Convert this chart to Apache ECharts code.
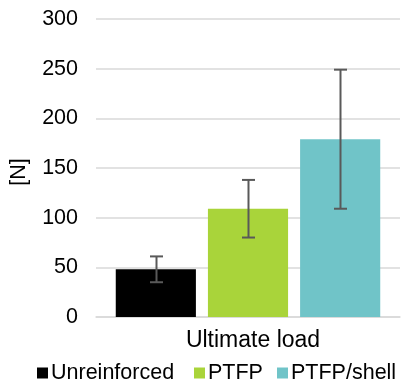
<!DOCTYPE html>
<html>
<head>
<meta charset="utf-8">
<script src="https://cdn.jsdelivr.net/npm/echarts@6/dist/echarts.min.js"></script>
<style>
  html, body { margin: 0; padding: 0; background: #ffffff; }
  #chart { width: 402px; height: 388px; }
</style>
</head>
<body>
<div id="chart"></div>
<script>
// Ultimate load per reinforcement type, mean with ± spread
const categories = ['Ultimate load'];
const seriesNames = ['Unreinforced', 'PTFP', 'PTFP/shell'];
const seriesColors = ['#000000', '#a9d43a', '#70c4c8'];
const unreinforcedMean = [48];
const ptfpMean = [109];
const ptfpShellMean = [179];
const unreinforcedErr = [13];
const ptfpErr = [29];
const ptfpShellErr = [70];
const yTicks = [0, 50, 100, 150, 200, 250, 300];

const means = [unreinforcedMean, ptfpMean, ptfpShellMean];
const errs = [unreinforcedErr, ptfpErr, ptfpShellErr];

const FONT = '"Liberation Sans", Arial, sans-serif';
const TICK_FS = 21.5;
const CAT_FS = 23;
const LEGEND_FS = 21.5;
const BAR_GAP = '15%';
const CAT_GAP = '13%';
// left edge of each legend entry
const legendLeft = [37, 194, 277];

const chart = echarts.init(document.getElementById('chart'), null, { renderer: 'canvas' });

const barSeries = seriesNames.map((name, i) => ({
  name: name,
  type: 'bar',
  data: means[i],
  barGap: BAR_GAP,
  barCategoryGap: CAT_GAP,
  itemStyle: { color: seriesColors[i] },
  silent: true
}));

// Error whiskers placed over each bar using the bar layout of the category axis
const errorSeries = seriesNames.map((name, i) => ({
  name: name + ' error',
  type: 'custom',
  silent: true,
  z: 5,
  data: means[i].map((m, k) => [k, m - errs[i][k], m + errs[i][k]]),
  renderItem: function (params, api) {
    const cat = api.value(0);
    const lowPt = api.coord([cat, api.value(1)]);
    const highPt = api.coord([cat, api.value(2)]);
    const bandW = api.size([1, 0])[0];
    const n = seriesNames.length;
    const gapRatio = parseFloat(BAR_GAP) / 100;
    const catGapRatio = parseFloat(CAT_GAP) / 100;
    const usable = bandW * (1 - catGapRatio);
    const barW = usable / (n + (n - 1) * gapRatio);
    const start = lowPt[0] - usable / 2;
    const x = Math.round(start + i * barW * (1 + gapRatio) + barW / 2) + 0.5;
    const cap = 6.5;
    const style = { stroke: '#595959', lineWidth: 2 };
    return {
      type: 'group',
      children: [
        { type: 'line', shape: { x1: x, y1: highPt[1], x2: x, y2: lowPt[1] }, style: style },
        { type: 'line', shape: { x1: x - cap, y1: highPt[1], x2: x + cap, y2: highPt[1] }, style: style },
        { type: 'line', shape: { x1: x - cap, y1: lowPt[1], x2: x + cap, y2: lowPt[1] }, style: style }
      ]
    };
  }
}));

const legends = seriesNames.map((n, i) => ({
  data: [{ name: n, icon: 'rect' }],
  left: legendLeft[i],
  top: 362,
  padding: 0,
  itemWidth: 11,
  itemHeight: 11,
  selectedMode: false,
  textStyle: { fontFamily: FONT, fontSize: LEGEND_FS, color: '#000000', padding: [0, 0, 0, -2] }
}));

chart.setOption({
  animation: false,
  backgroundColor: '#ffffff',
  textStyle: { fontFamily: FONT },
  grid: { left: 96, right: 2, top: 19, bottom: 71, containLabel: false },
  legend: legends,
  xAxis: {
    type: 'category',
    data: categories,
    axisLine: { show: true, lineStyle: { color: '#d9d9d9', width: 1.5 } },
    axisTick: { show: false },
    axisLabel: { fontFamily: FONT, fontSize: CAT_FS, color: '#000000', margin: 12, padding: [0, 0, 0, 10] }
  },
  yAxis: {
    type: 'value',
    min: yTicks[0],
    max: yTicks[yTicks.length - 1],
    interval: yTicks[1] - yTicks[0],
    name: '[N]',
    nameLocation: 'middle',
    nameRotate: 90,
    nameGap: 66,
    nameTextStyle: { fontFamily: FONT, fontSize: TICK_FS, color: '#000000', padding: [0, 8, 0, 0] },
    axisLine: { show: false },
    axisTick: { show: false },
    axisLabel: { fontFamily: FONT, fontSize: TICK_FS, color: '#000000', margin: 18 },
    splitLine: { lineStyle: { color: '#d9d9d9', width: 1.5 } }
  },
  series: barSeries.concat(errorSeries)
});
</script>
</body>
</html>
